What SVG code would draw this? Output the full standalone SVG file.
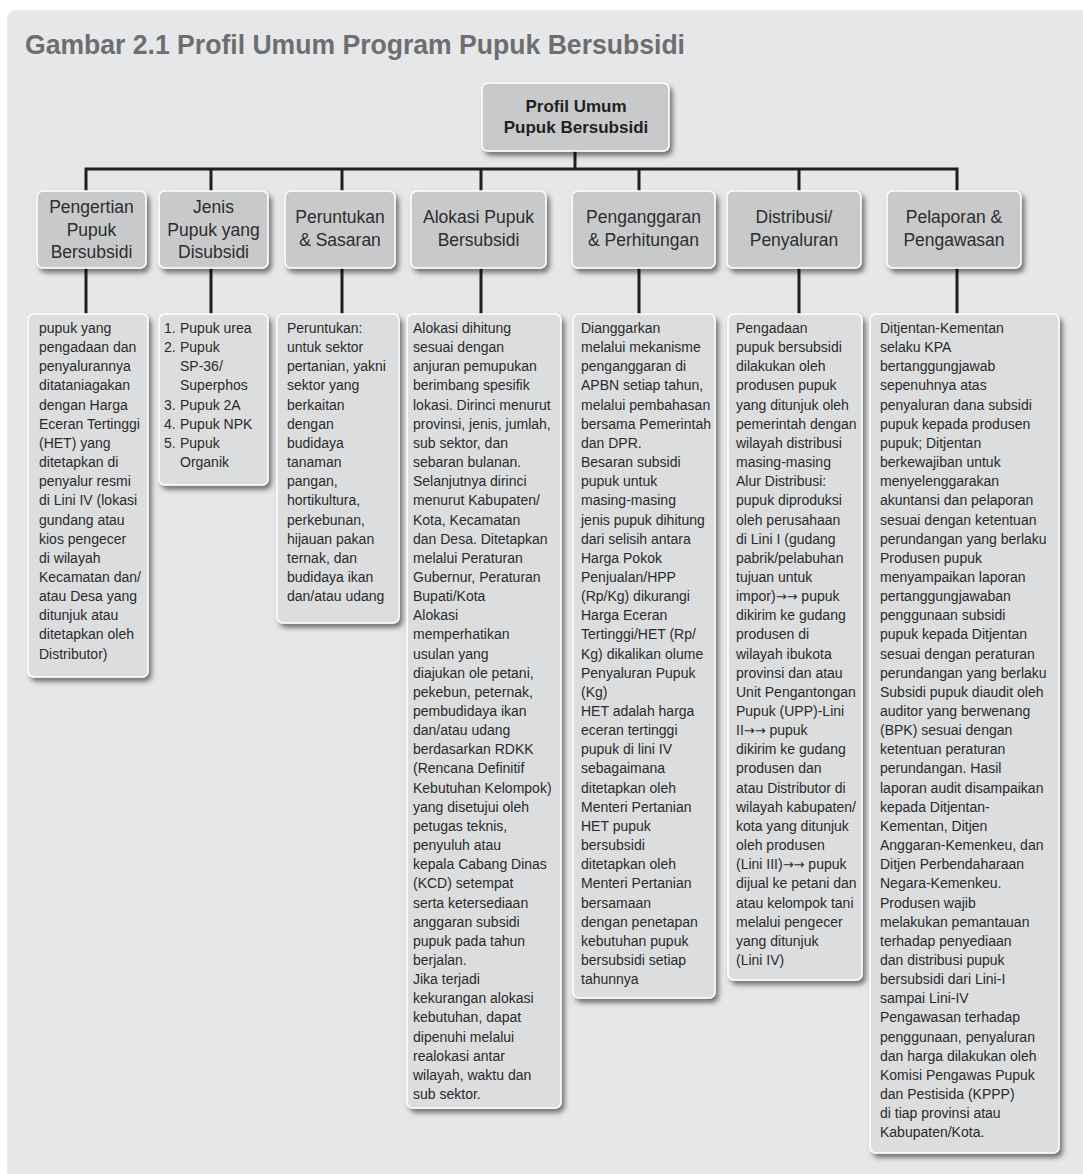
<svg xmlns="http://www.w3.org/2000/svg" width="1083" height="1174" viewBox="0 0 1083 1174">
<defs>
<filter id="sh" x="-20%" y="-20%" width="150%" height="150%">
<feDropShadow dx="3" dy="4" stdDeviation="2.5" flood-color="#000" flood-opacity="0.5"/>
</filter>
</defs>
<style>
.hd{fill:#c8c9cb;stroke:#fff;stroke-width:1.5}
.ct{fill:#dcddde;stroke:#fff;stroke-width:1.5}
.ht{font-family:"Liberation Sans",Arial,sans-serif;font-size:17.5px;fill:#2d2d2d;text-anchor:middle}
.tt{font-family:"Liberation Sans",Arial,sans-serif;font-size:17px;font-weight:bold;fill:#231f20;text-anchor:middle}
.tx{font-family:"Liberation Sans",Arial,sans-serif;font-size:14px;fill:#2a2a2a}
.ar{font-family:"DejaVu Sans",sans-serif;font-size:13px}
.ln{stroke:#231f20;stroke-width:3;fill:none;stroke-linejoin:miter}
</style>
<rect x="7" y="10" width="1100" height="1190" rx="9" fill="#e6e7e8"/>
<text x="25" y="54" font-family="Liberation Sans, Arial, sans-serif" font-size="27" font-weight="bold" fill="#6d6e71" textLength="660" lengthAdjust="spacingAndGlyphs">Gambar 2.1 Profil Umum Program Pupuk Bersubsidi</text>

<g id="connectors">
<path class="ln" d="M575 151V169"/>
<path class="ln" d="M86 191V169H957V191"/>
<path class="ln" d="M211 169V191M342 169V191M481 169V191M639 169V191M799 169V191"/>
<path class="ln" d="M86 268V314M211 268V314M342 268V314M481 268V314M639 268V314M799 268V314M957 268V314"/>
</g>

<g id="root">
<rect class="hd" x="482" y="83" width="187" height="68" rx="6" filter="url(#sh)"/>
<text class="tt" x="576" y="112">Profil Umum</text>
<text class="tt" x="576" y="133">Pupuk Bersubsidi</text>
</g>

<g id="h1">
<rect class="hd" x="37" y="191" width="109" height="77" rx="6" filter="url(#sh)"/>
<text class="ht" y="213"><tspan x="91.5">Pengertian</tspan><tspan x="91.5" dy="22.5">Pupuk</tspan><tspan x="91.5" dy="22.5">Bersubsidi</tspan></text>
</g>
<g id="h2">
<rect class="hd" x="159" y="191" width="109" height="77" rx="6" filter="url(#sh)"/>
<text class="ht" y="213"><tspan x="213.5">Jenis</tspan><tspan x="213.5" dy="22.5">Pupuk yang</tspan><tspan x="213.5" dy="22.5">Disubsidi</tspan></text>
</g>
<g id="h3">
<rect class="hd" x="285" y="191" width="110" height="77" rx="6" filter="url(#sh)"/>
<text class="ht" y="223"><tspan x="340">Peruntukan</tspan><tspan x="340" dy="22.5">&amp; Sasaran</tspan></text>
</g>
<g id="h4">
<rect class="hd" x="411" y="191" width="135" height="77" rx="6" filter="url(#sh)"/>
<text class="ht" y="223"><tspan x="478.5">Alokasi Pupuk</tspan><tspan x="478.5" dy="22.5">Bersubsidi</tspan></text>
</g>
<g id="h5">
<rect class="hd" x="572" y="191" width="143" height="77" rx="6" filter="url(#sh)"/>
<text class="ht" y="223"><tspan x="643.5">Penganggaran</tspan><tspan x="643.5" dy="22.5">&amp; Perhitungan</tspan></text>
</g>
<g id="h6">
<rect class="hd" x="727" y="191" width="134" height="77" rx="6" filter="url(#sh)"/>
<text class="ht" y="223"><tspan x="794">Distribusi/</tspan><tspan x="794" dy="22.5">Penyaluran</tspan></text>
</g>
<g id="h7">
<rect class="hd" x="887" y="191" width="134" height="77" rx="6" filter="url(#sh)"/>
<text class="ht" y="223"><tspan x="954">Pelaporan &amp;</tspan><tspan x="954" dy="22.5">Pengawasan</tspan></text>
</g>

<g id="c1">
<rect class="ct" x="28" y="314" width="120" height="363" rx="6" filter="url(#sh)"/>
<text class="tx" y="333"><tspan x="39">pupuk yang</tspan><tspan x="39" dy="19.15">pengadaan dan</tspan><tspan x="39" dy="19.15">penyalurannya</tspan><tspan x="39" dy="19.15">ditataniagakan</tspan><tspan x="39" dy="19.15">dengan Harga</tspan><tspan x="39" dy="19.15">Eceran Tertinggi</tspan><tspan x="39" dy="19.15">(HET) yang</tspan><tspan x="39" dy="19.15">ditetapkan di</tspan><tspan x="39" dy="19.15">penyalur resmi</tspan><tspan x="39" dy="19.15">di Lini IV (lokasi</tspan><tspan x="39" dy="19.15">gundang atau</tspan><tspan x="39" dy="19.15">kios pengecer</tspan><tspan x="39" dy="19.15">di wilayah</tspan><tspan x="39" dy="19.15">Kecamatan dan/</tspan><tspan x="39" dy="19.15">atau Desa yang</tspan><tspan x="39" dy="19.15">ditunjuk atau</tspan><tspan x="39" dy="19.15">ditetapkan oleh</tspan><tspan x="39" dy="19.15">Distributor)</tspan></text>
</g>

<g id="c2">
<rect class="ct" x="159" y="314" width="109" height="171" rx="6" filter="url(#sh)"/>
<text class="tx" y="333"><tspan x="164">1.</tspan><tspan x="180">Pupuk urea</tspan><tspan x="164" dy="19.15">2.</tspan><tspan x="180">Pupuk</tspan><tspan x="180" dy="19.15">SP-36/</tspan><tspan x="180" dy="19.15">Superphos</tspan><tspan x="164" dy="19.15">3.</tspan><tspan x="180">Pupuk 2A</tspan><tspan x="164" dy="19.15">4.</tspan><tspan x="180">Pupuk NPK</tspan><tspan x="164" dy="19.15">5.</tspan><tspan x="180">Pupuk</tspan><tspan x="180" dy="19.15">Organik</tspan></text>
</g>

<g id="c3">
<rect class="ct" x="277" y="314" width="122" height="309" rx="6" filter="url(#sh)"/>
<text class="tx" y="333"><tspan x="287">Peruntukan:</tspan><tspan x="287" dy="19.15">untuk sektor</tspan><tspan x="287" dy="19.15">pertanian, yakni</tspan><tspan x="287" dy="19.15">sektor yang</tspan><tspan x="287" dy="19.15">berkaitan</tspan><tspan x="287" dy="19.15">dengan</tspan><tspan x="287" dy="19.15">budidaya</tspan><tspan x="287" dy="19.15">tanaman</tspan><tspan x="287" dy="19.15">pangan,</tspan><tspan x="287" dy="19.15">hortikultura,</tspan><tspan x="287" dy="19.15">perkebunan,</tspan><tspan x="287" dy="19.15">hijauan pakan</tspan><tspan x="287" dy="19.15">ternak, dan</tspan><tspan x="287" dy="19.15">budidaya ikan</tspan><tspan x="287" dy="19.15">dan/atau udang</tspan></text>
</g>

<g id="c4">
<rect class="ct" x="407" y="314" width="154" height="794" rx="6" filter="url(#sh)"/>
<text class="tx" y="333"><tspan x="413">Alokasi dihitung</tspan><tspan x="413" dy="19.15">sesuai dengan</tspan><tspan x="413" dy="19.15">anjuran pemupukan</tspan><tspan x="413" dy="19.15">berimbang spesifik</tspan><tspan x="413" dy="19.15">lokasi. Dirinci menurut</tspan><tspan x="413" dy="19.15">provinsi, jenis, jumlah,</tspan><tspan x="413" dy="19.15">sub sektor, dan</tspan><tspan x="413" dy="19.15">sebaran bulanan.</tspan><tspan x="413" dy="19.15">Selanjutnya dirinci</tspan><tspan x="413" dy="19.15">menurut Kabupaten/</tspan><tspan x="413" dy="19.15">Kota, Kecamatan</tspan><tspan x="413" dy="19.15">dan Desa. Ditetapkan</tspan><tspan x="413" dy="19.15">melalui Peraturan</tspan><tspan x="413" dy="19.15">Gubernur, Peraturan</tspan><tspan x="413" dy="19.15">Bupati/Kota</tspan><tspan x="413" dy="19.15">Alokasi</tspan><tspan x="413" dy="19.15">memperhatikan</tspan><tspan x="413" dy="19.15">usulan yang</tspan><tspan x="413" dy="19.15">diajukan ole petani,</tspan><tspan x="413" dy="19.15">pekebun, peternak,</tspan><tspan x="413" dy="19.15">pembudidaya ikan</tspan><tspan x="413" dy="19.15">dan/atau udang</tspan><tspan x="413" dy="19.15">berdasarkan RDKK</tspan><tspan x="413" dy="19.15">(Rencana Definitif</tspan><tspan x="413" dy="19.15">Kebutuhan Kelompok)</tspan><tspan x="413" dy="19.15">yang disetujui oleh</tspan><tspan x="413" dy="19.15">petugas teknis,</tspan><tspan x="413" dy="19.15">penyuluh atau</tspan><tspan x="413" dy="19.15">kepala Cabang Dinas</tspan><tspan x="413" dy="19.15">(KCD) setempat</tspan><tspan x="413" dy="19.15">serta ketersediaan</tspan><tspan x="413" dy="19.15">anggaran subsidi</tspan><tspan x="413" dy="19.15">pupuk pada tahun</tspan><tspan x="413" dy="19.15">berjalan.</tspan><tspan x="413" dy="19.15">Jika terjadi</tspan><tspan x="413" dy="19.15">kekurangan alokasi</tspan><tspan x="413" dy="19.15">kebutuhan, dapat</tspan><tspan x="413" dy="19.15">dipenuhi melalui</tspan><tspan x="413" dy="19.15">realokasi antar</tspan><tspan x="413" dy="19.15">wilayah, waktu dan</tspan><tspan x="413" dy="19.15">sub sektor.</tspan></text>
</g>

<g id="c5">
<rect class="ct" x="573" y="314" width="142" height="684" rx="6" filter="url(#sh)"/>
<text class="tx" y="333"><tspan x="581">Dianggarkan</tspan><tspan x="581" dy="19.15">melalui mekanisme</tspan><tspan x="581" dy="19.15">penganggaran di</tspan><tspan x="581" dy="19.15">APBN setiap tahun,</tspan><tspan x="581" dy="19.15">melalui pembahasan</tspan><tspan x="581" dy="19.15">bersama Pemerintah</tspan><tspan x="581" dy="19.15">dan DPR.</tspan><tspan x="581" dy="19.15">Besaran subsidi</tspan><tspan x="581" dy="19.15">pupuk untuk</tspan><tspan x="581" dy="19.15">masing-masing</tspan><tspan x="581" dy="19.15">jenis pupuk dihitung</tspan><tspan x="581" dy="19.15">dari selisih antara</tspan><tspan x="581" dy="19.15">Harga Pokok</tspan><tspan x="581" dy="19.15">Penjualan/HPP</tspan><tspan x="581" dy="19.15">(Rp/Kg) dikurangi</tspan><tspan x="581" dy="19.15">Harga Eceran</tspan><tspan x="581" dy="19.15">Tertinggi/HET (Rp/</tspan><tspan x="581" dy="19.15">Kg) dikalikan olume</tspan><tspan x="581" dy="19.15">Penyaluran Pupuk</tspan><tspan x="581" dy="19.15">(Kg)</tspan><tspan x="581" dy="19.15">HET adalah harga</tspan><tspan x="581" dy="19.15">eceran tertinggi</tspan><tspan x="581" dy="19.15">pupuk di lini IV</tspan><tspan x="581" dy="19.15">sebagaimana</tspan><tspan x="581" dy="19.15">ditetapkan oleh</tspan><tspan x="581" dy="19.15">Menteri Pertanian</tspan><tspan x="581" dy="19.15">HET pupuk</tspan><tspan x="581" dy="19.15">bersubsidi</tspan><tspan x="581" dy="19.15">ditetapkan oleh</tspan><tspan x="581" dy="19.15">Menteri Pertanian</tspan><tspan x="581" dy="19.15">bersamaan</tspan><tspan x="581" dy="19.15">dengan penetapan</tspan><tspan x="581" dy="19.15">kebutuhan pupuk</tspan><tspan x="581" dy="19.15">bersubsidi setiap</tspan><tspan x="581" dy="19.15">tahunnya</tspan></text>
</g>

<g id="c6">
<rect class="ct" x="728" y="314" width="134" height="666" rx="6" filter="url(#sh)"/>
<text class="tx" y="333"><tspan x="736">Pengadaan</tspan><tspan x="736" dy="19.15">pupuk bersubsidi</tspan><tspan x="736" dy="19.15">dilakukan oleh</tspan><tspan x="736" dy="19.15">produsen pupuk</tspan><tspan x="736" dy="19.15">yang ditunjuk oleh</tspan><tspan x="736" dy="19.15">pemerintah dengan</tspan><tspan x="736" dy="19.15">wilayah distribusi</tspan><tspan x="736" dy="19.15">masing-masing</tspan><tspan x="736" dy="19.15">Alur Distribusi:</tspan><tspan x="736" dy="19.15">pupuk diproduksi</tspan><tspan x="736" dy="19.15">oleh perusahaan</tspan><tspan x="736" dy="19.15">di Lini I (gudang</tspan><tspan x="736" dy="19.15">pabrik/pelabuhan</tspan><tspan x="736" dy="19.15">tujuan untuk</tspan><tspan x="736" dy="19.15">impor)<tspan class="ar">→→</tspan> pupuk</tspan><tspan x="736" dy="19.15">dikirim ke gudang</tspan><tspan x="736" dy="19.15">produsen di</tspan><tspan x="736" dy="19.15">wilayah ibukota</tspan><tspan x="736" dy="19.15">provinsi dan atau</tspan><tspan x="736" dy="19.15">Unit Pengantongan</tspan><tspan x="736" dy="19.15">Pupuk (UPP)-Lini</tspan><tspan x="736" dy="19.15">II<tspan class="ar">→→</tspan> pupuk</tspan><tspan x="736" dy="19.15">dikirim ke gudang</tspan><tspan x="736" dy="19.15">produsen dan</tspan><tspan x="736" dy="19.15">atau Distributor di</tspan><tspan x="736" dy="19.15">wilayah kabupaten/</tspan><tspan x="736" dy="19.15">kota yang ditunjuk</tspan><tspan x="736" dy="19.15">oleh produsen</tspan><tspan x="736" dy="19.15">(Lini III)<tspan class="ar">→→</tspan> pupuk</tspan><tspan x="736" dy="19.15">dijual ke petani dan</tspan><tspan x="736" dy="19.15">atau kelompok tani</tspan><tspan x="736" dy="19.15">melalui pengecer</tspan><tspan x="736" dy="19.15">yang ditunjuk</tspan><tspan x="736" dy="19.15">(Lini IV)</tspan></text>
</g>

<g id="c7">
<rect class="ct" x="870" y="314" width="189" height="839" rx="6" filter="url(#sh)"/>
<text class="tx" y="333"><tspan x="880">Ditjentan-Kementan</tspan><tspan x="880" dy="19.15">selaku KPA</tspan><tspan x="880" dy="19.15">bertanggungjawab</tspan><tspan x="880" dy="19.15">sepenuhnya atas</tspan><tspan x="880" dy="19.15">penyaluran dana subsidi</tspan><tspan x="880" dy="19.15">pupuk kepada produsen</tspan><tspan x="880" dy="19.15">pupuk; Ditjentan</tspan><tspan x="880" dy="19.15">berkewajiban untuk</tspan><tspan x="880" dy="19.15">menyelenggarakan</tspan><tspan x="880" dy="19.15">akuntansi dan pelaporan</tspan><tspan x="880" dy="19.15">sesuai dengan ketentuan</tspan><tspan x="880" dy="19.15">perundangan yang berlaku</tspan><tspan x="880" dy="19.15">Produsen pupuk</tspan><tspan x="880" dy="19.15">menyampaikan laporan</tspan><tspan x="880" dy="19.15">pertanggungjawaban</tspan><tspan x="880" dy="19.15">penggunaan subsidi</tspan><tspan x="880" dy="19.15">pupuk kepada Ditjentan</tspan><tspan x="880" dy="19.15">sesuai dengan peraturan</tspan><tspan x="880" dy="19.15">perundangan yang berlaku</tspan><tspan x="880" dy="19.15">Subsidi pupuk diaudit oleh</tspan><tspan x="880" dy="19.15">auditor yang berwenang</tspan><tspan x="880" dy="19.15">(BPK) sesuai dengan</tspan><tspan x="880" dy="19.15">ketentuan peraturan</tspan><tspan x="880" dy="19.15">perundangan. Hasil</tspan><tspan x="880" dy="19.15">laporan audit disampaikan</tspan><tspan x="880" dy="19.15">kepada Ditjentan-</tspan><tspan x="880" dy="19.15">Kementan, Ditjen</tspan><tspan x="880" dy="19.15">Anggaran-Kemenkeu, dan</tspan><tspan x="880" dy="19.15">Ditjen Perbendaharaan</tspan><tspan x="880" dy="19.15">Negara-Kemenkeu.</tspan><tspan x="880" dy="19.15">Produsen wajib</tspan><tspan x="880" dy="19.15">melakukan pemantauan</tspan><tspan x="880" dy="19.15">terhadap penyediaan</tspan><tspan x="880" dy="19.15">dan distribusi pupuk</tspan><tspan x="880" dy="19.15">bersubsidi dari Lini-I</tspan><tspan x="880" dy="19.15">sampai Lini-IV</tspan><tspan x="880" dy="19.15">Pengawasan terhadap</tspan><tspan x="880" dy="19.15">penggunaan, penyaluran</tspan><tspan x="880" dy="19.15">dan harga dilakukan oleh</tspan><tspan x="880" dy="19.15">Komisi Pengawas Pupuk</tspan><tspan x="880" dy="19.15">dan Pestisida (KPPP)</tspan><tspan x="880" dy="19.15">di tiap provinsi atau</tspan><tspan x="880" dy="19.15">Kabupaten/Kota.</tspan></text>
</g>
</svg>
